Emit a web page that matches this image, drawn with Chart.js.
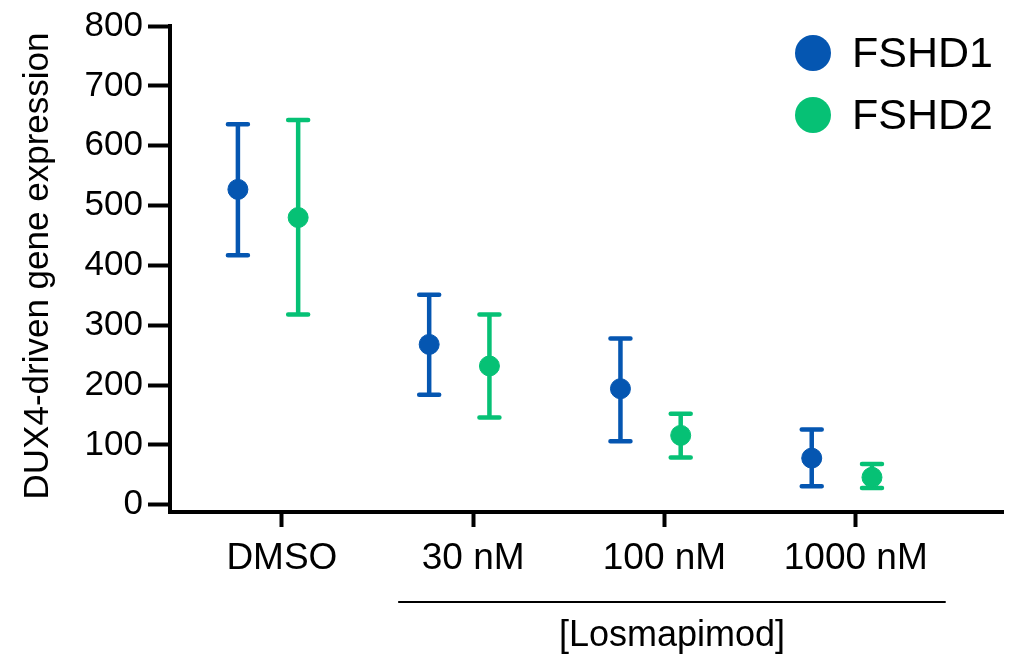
<!DOCTYPE html>
<html>
<head>
<meta charset="utf-8">
<script src="https://cdn.jsdelivr.net/npm/chart.js@4"></script>
<style>
  html, body { margin: 0; padding: 0; background: #fff; }
  #wrap { width: 1014px; height: 658px; }
</style>
</head>
<body>
<div id="wrap"><canvas id="chart" width="1014" height="658"></canvas></div>
<script>
// values
const categories = ['DMSO', '30 nM', '100 nM', '1000 nM'];
const fshd1Mean = [527, 268, 194, 78];
const fshd1Upper = [636, 351, 278, 126];
const fshd1Lower = [417, 184, 106, 31];
const fshd2Mean = [480, 232, 116, 46];
const fshd2Upper = [643, 318, 152, 68];
const fshd2Lower = [318, 146, 79, 28];
const yTicks = [0, 100, 200, 300, 400, 500, 600, 700, 800];

const BLUE = '#0556b1';
const GREEN = '#06c175';
const FONT = '"Liberation Sans", Arial, Helvetica, sans-serif';

// horizontal nudge of each group around its category
const shift1 = -0.23, shift2 = 0.085;

function points(means, shift) {
  return means.map((v, i) => ({x: i + shift, y: v}));
}

const errorBars = {
  id: 'errorBars',
  beforeDatasetsDraw(chart) {
    const {ctx, scales: {x, y}} = chart;
    const sets = [
      {shift: shift1, hi: fshd1Upper, lo: fshd1Lower, color: BLUE},
      {shift: shift2, hi: fshd2Upper, lo: fshd2Lower, color: GREEN}
    ];
    ctx.save();
    ctx.lineWidth = 4.5;
    ctx.lineCap = 'round';
    sets.forEach(s => {
      ctx.strokeStyle = s.color;
      s.hi.forEach((h, i) => {
        const px = x.getPixelForValue(i + s.shift);
        const pt = y.getPixelForValue(h);
        const pb = y.getPixelForValue(s.lo[i]);
        ctx.beginPath();
        ctx.moveTo(px, pt); ctx.lineTo(px, pb);
        ctx.moveTo(px - 10, pt); ctx.lineTo(px + 10, pt);
        ctx.moveTo(px - 10, pb); ctx.lineTo(px + 10, pb);
        ctx.stroke();
      });
    });
    ctx.restore();
  },
  afterDraw(chart) {
    const {ctx, scales: {x}} = chart;
    ctx.save();
    // y title
    ctx.fillStyle = '#000';
    ctx.font = '35px ' + FONT;
    ctx.textAlign = 'center';
    ctx.textBaseline = 'middle';
    ctx.translate(38, 266);
    ctx.rotate(-Math.PI / 2);
    ctx.fillText('DUX4-driven gene expression', 0, 0);
    ctx.restore();

    // bracket under the treated doses
    ctx.save();
    const x0 = x.getPixelForValue(1) - 75;
    const x1 = x.getPixelForValue(3) + 90;
    ctx.strokeStyle = '#000';
    ctx.lineWidth = 2;
    ctx.beginPath();
    ctx.moveTo(x0, 602); ctx.lineTo(x1, 602);
    ctx.stroke();
    ctx.fillStyle = '#000';
    ctx.font = '36px ' + FONT;
    ctx.textAlign = 'center';
    ctx.textBaseline = 'middle';
    ctx.fillText('[Losmapimod]', (x0 + x1) / 2, 636);

    // legend
    ctx.font = '43px ' + FONT;
    ctx.textAlign = 'left';
    chart.data.datasets.forEach((ds, i) => {
      const cy = 53 + i * 62;
      ctx.fillStyle = ds.backgroundColor;
      ctx.beginPath();
      ctx.arc(813, cy, 18, 0, Math.PI * 2);
      ctx.fill();
      ctx.fillStyle = '#000';
      ctx.fillText(ds.label, 852, cy + 2);
    });
    ctx.restore();
  }
};

new Chart(document.getElementById('chart'), {
  type: 'scatter',
  data: {
    datasets: [
      {label: 'FSHD1', data: points(fshd1Mean, shift1), backgroundColor: BLUE, borderColor: BLUE, pointRadius: 10, pointHoverRadius: 10},
      {label: 'FSHD2', data: points(fshd2Mean, shift2), backgroundColor: GREEN, borderColor: GREEN, pointRadius: 10, pointHoverRadius: 10}
    ]
  },
  options: {
    responsive: false,
    animation: false,
    layout: {padding: {top: 22, right: 9, left: 0, bottom: 0}},
    plugins: {legend: {display: false}, tooltip: {enabled: false}},
    scales: {
      x: {
        type: 'linear',
        min: -0.585,
        max: 3.77,
        afterBuildTicks(scale) { scale.ticks = categories.map((c, i) => ({value: i})); },
        afterFit(scale) { scale.height = 146; },
        border: {display: true, color: '#000', width: 4},
        grid: {drawOnChartArea: false, drawTicks: true, tickLength: 15, tickWidth: 4, tickColor: '#000'},
        ticks: {
          color: '#000',
          padding: 10,
          maxRotation: 0,
          font: {family: FONT, size: 37},
          callback: v => categories[v]
        }
      },
      y: {
        min: -12,
        max: 800,
        afterBuildTicks(scale) { scale.ticks = yTicks.map(v => ({value: v})); },
        afterFit(scale) { scale.width = 170; },
        border: {display: true, color: '#000', width: 4},
        grid: {drawOnChartArea: false, drawTicks: true, tickLength: 22, tickWidth: 4, tickColor: '#000'},
        ticks: {
          color: '#000',
          padding: 5,
          font: {family: FONT, size: 35}
        }
      }
    }
  },
  plugins: [errorBars]
});
</script>
</body>
</html>
